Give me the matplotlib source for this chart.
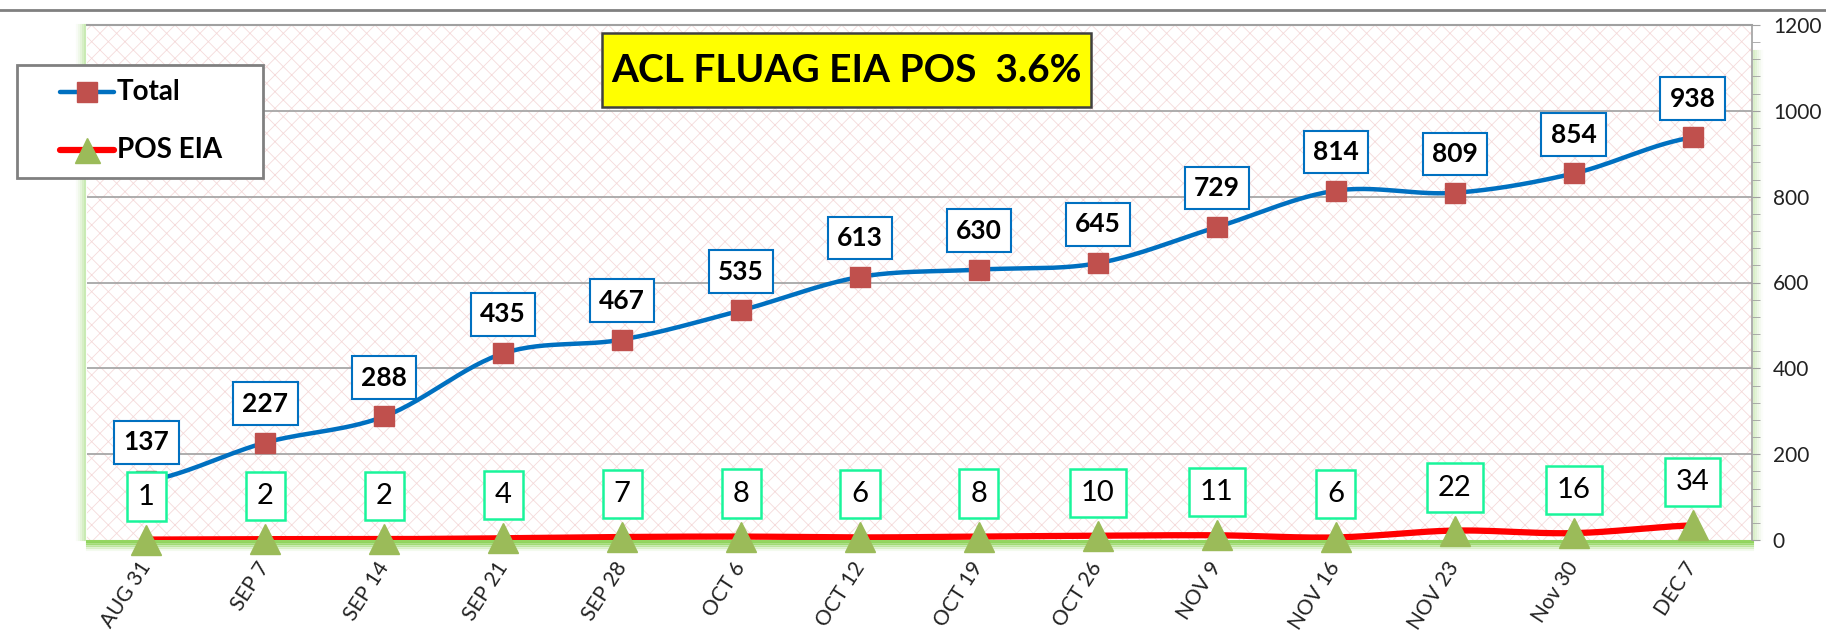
import matplotlib
matplotlib.use("Agg")
import matplotlib.pyplot as plt
import numpy as np
from matplotlib.patches import Rectangle
from matplotlib.lines import Line2D

labels = ["AUG 31", "SEP 7", "SEP 14", "SEP 21", "SEP 28", "OCT 6", "OCT 12",
          "OCT 19", "OCT 26", "NOV 9", "NOV 16", "NOV 23", "Nov 30", "DEC 7"]
total = [137, 227, 288, 435, 467, 535, 613, 630, 645, 729, 814, 809, 854, 938]
pos_eia = [1, 2, 2, 4, 7, 8, 6, 8, 10, 11, 6, 22, 16, 34]

plt.rcParams['font.family'] = ['Lato', 'DejaVu Sans']
plt.rcParams['hatch.linewidth'] = 0.6


def smooth(y, n=30):
    # bezier smoothing between points, like excel "smoothed line"
    y = np.asarray(y, float)
    x = np.arange(len(y), dtype=float)
    xs, ys = [], []
    for i in range(len(y) - 1):
        y0, y1 = y[i], y[i + 1]
        ym = y[i - 1] if i > 0 else y0
        yp = y[i + 2] if i + 2 < len(y) else y1
        c1 = y0 + (y1 - ym) / 6
        c2 = y1 - (yp - y0) / 6
        t = np.linspace(0, 1, n)
        xs.extend(x[i] + t)
        ys.extend((1 - t) ** 3 * y0 + 3 * (1 - t) ** 2 * t * c1 + 3 * (1 - t) * t ** 2 * c2 + t ** 3 * y1)
    return np.array(xs), np.array(ys)


W, H = 1826, 636
fig = plt.figure(figsize=(W / 100, H / 100), dpi=100)
L, R, T, B = 87, 1752, 25, 540
ax = fig.add_axes([L / W, 1 - B / H, (R - L) / W, (B - T) / H])


def fx(px):
    return px / W


def fy(py):
    return 1 - py / H


# hatched background
ax.add_patch(Rectangle((0, 0), 1, 1, transform=ax.transAxes, facecolor='white',
                       edgecolor='#f5dada', hatch='xx', linewidth=0, zorder=0))

ind = np.arange(len(labels))
ax.set_xlim(-0.5, len(labels) - 0.5)
ax.set_ylim(0, 1200)

for v in range(200, 1201, 200):
    ax.axhline(v, color='#a0a0a0', lw=1.2, zorder=1)

# green glow along bottom and sides
for i, a in enumerate([0.95, 0.7, 0.45, 0.25, 0.1]):
    yb = -0.004 * i - 0.002
    ax.add_line(Line2D([0, 1], [yb, yb], transform=ax.transAxes, color='#8ed45a',
                       alpha=a, lw=2.2, clip_on=False, zorder=1))
    xl = -0.0012 * i - 0.001
    ax.add_line(Line2D([xl, xl], [0, 1], transform=ax.transAxes, color='#c8eab0',
                       alpha=a, lw=1.5, clip_on=False, zorder=1))
    xr = 1 + 0.0012 * i + 0.001
    ax.add_line(Line2D([xr, xr], [0, 0.95], transform=ax.transAxes, color='#d8efc8',
                       alpha=a, lw=1.5, clip_on=False, zorder=1))

sx, sy = smooth(total)
ax.plot(sx, sy, color='#0070c0', lw=3.2, zorder=3, solid_capstyle='round')
ax.plot(ind, total, ls='none', marker='s', ms=14, color='#c0504d', zorder=4)

px, py = smooth(pos_eia)
ax.plot(px, py, color='#ff0000', lw=4.5, zorder=3, solid_capstyle='round')
ax.plot(ind, pos_eia, ls='none', marker='^', ms=21, color='#9bbb59', zorder=4,
        clip_on=False)

for i, v in enumerate(total):
    ax.annotate(str(v), (i, v), xytext=(0, 28), textcoords='offset points',
                ha='center', va='center', fontsize=19, fontweight='bold', zorder=5,
                bbox=dict(boxstyle='square,pad=0.35', fc='white', ec='#0070c0', lw=1.5))
for i, v in enumerate(pos_eia):
    ax.annotate(str(v), (i, v), xytext=(0, 31), textcoords='offset points',
                ha='center', va='center', fontsize=21, zorder=5,
                bbox=dict(boxstyle='square,pad=0.38', fc='white', ec='#19f59b', lw=1.8))

ax.set_xticks(ind)
ax.set_xticklabels(labels, rotation=57, ha='right', va='center', rotation_mode='anchor',
                   fontsize=15, color='#222222')
ax.tick_params(axis='x', length=0, pad=17)

ax.yaxis.tick_right()
ax.set_yticks(range(0, 1201, 200))
ax.set_yticks(range(0, 1201, 40), minor=True)
ax.tick_params(axis='y', which='both', direction='out', color='#a0a0a0', labelsize=15,
               pad=9, labelcolor='#222222', length=6)

for s in ['left', 'bottom']:
    ax.spines[s].set_visible(False)
ax.spines['top'].set_color('#a0a0a0')
ax.spines['top'].set_linewidth(1.5)
ax.spines['right'].set_color('#a0a0a0')
ax.spines['right'].set_linewidth(1.2)

# title box
fig.add_artist(Rectangle((fx(602), fy(107)), fx(1091) - fx(602), fy(33) - fy(107),
                         transform=fig.transFigure, fc='#ffff00', ec='#404040', lw=1.8, zorder=6))
fig.text(fx(846), fy(71), "ACL FLUAG EIA POS  3.6%", ha='center', va='center',
         fontsize=28, fontweight='bold', zorder=7)

# top frame line
fig.add_artist(Line2D([0, 1], [fy(10), fy(10)], color='#808080', lw=2))

# legend box drawn by hand
fig.add_artist(Rectangle((fx(17), fy(178)), fx(263) - fx(17), fy(65) - fy(178),
                         transform=fig.transFigure, fc='white', ec='#808080', lw=2, zorder=6))
leg_items = [("Total", 92, '#0070c0', 3.2, 's', 14, '#c0504d'),
             ("POS EIA", 150, '#ff0000', 4.5, '^', 18, '#9bbb59')]
for name, yy, lc, lw, mk, ms, mc in leg_items:
    fig.add_artist(Line2D([fx(60), fx(114)], [fy(yy), fy(yy)], color=lc, lw=lw,
                          solid_capstyle='round', zorder=7))
    fig.add_artist(Line2D([fx(87)], [fy(yy)], marker=mk, ms=ms, color=mc, ls='none', zorder=8))
    fig.text(fx(117), fy(yy), name, ha='left', va='center', fontsize=20,
             fontweight='bold', zorder=8)

fig.savefig('out.png', dpi=100)
